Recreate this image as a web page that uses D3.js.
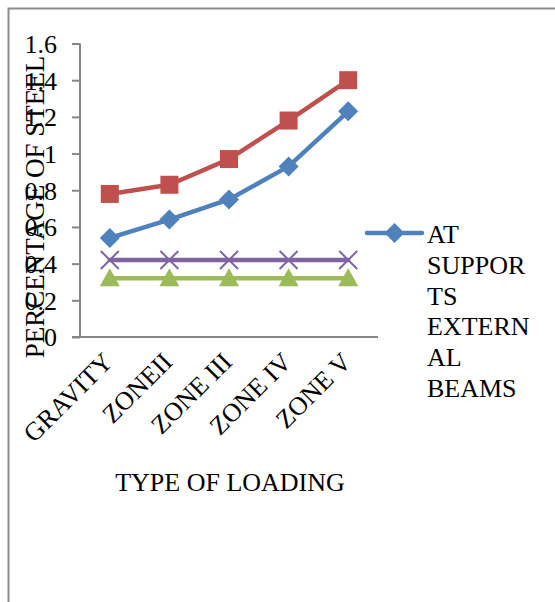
<!DOCTYPE html>
<html>
<head>
<meta charset="utf-8">
<script src="https://cdn.jsdelivr.net/npm/d3@7"></script>
<style>
  body { margin: 0; background: #fff; }
  text { font-family: "Liberation Serif", "Times New Roman", serif; fill: #000; }
</style>
</head>
<body>
<div id="chart"></div>
<script>
const categories = ["GRAVITY", "ZONEII", "ZONE III", "ZONE IV", "ZONE V"],
  // values
  blueValues = [0.54, 0.64, 0.75, 0.93, 1.23],
  redValues = [0.78, 0.83, 0.97, 1.18, 1.40],
  greenValues = [0.32, 0.32, 0.32, 0.32, 0.32],
  purpleValues = [0.42, 0.42, 0.42, 0.42, 0.42],
  yTicks = [0, 0.2, 0.4, 0.6, 0.8, 1, 1.2, 1.4, 1.6],
  legendLines = ["AT", "SUPPOR", "TS", "EXTERN", "AL", "BEAMS"]

const width = 555, height = 602,
  plot = { left: 80, right: 378, top: 43.5, bottom: 337 },
  fontSize = 26,
  axisColor = "#868686"

const series = [
  { name: "AT SUPPORTS EXTERNAL BEAMS", values: blueValues, color: "#4F81BD", marker: "diamond" },
  { name: "series 2", values: redValues, color: "#C0504D", marker: "square" },
  { name: "series 3", values: greenValues, color: "#9BBB59", marker: "triangle" },
  { name: "series 4", values: purpleValues, color: "#8064A2", marker: "x" }
]

const svg = d3.select("#chart").append("svg")
  .attr("width", width)
  .attr("height", height)

// outer frame (only top and left are visible)
svg.append("path")
  .attr("d", "M8.5," + height + "V8.5H" + width)
  .attr("fill", "none")
  .attr("stroke", "#8c8c8c")
  .attr("stroke-width", 2)

var x = d3.scaleBand().domain(categories).range([plot.left, plot.right])
var y = d3.scaleLinear().domain([0, 1.6]).range([plot.bottom, plot.top])

// y axis
var yAxis = svg.append("g")
  .attr("transform", "translate(" + plot.left + ",0)")
  .call(d3.axisLeft(y).tickValues(yTicks).tickSize(8).tickPadding(15)
    .tickFormat(d => String(+d.toFixed(1))))
yAxis.select(".domain").attr("stroke", axisColor).attr("stroke-width", 2)
  .attr("d", "M0," + plot.top + "V" + plot.bottom)
yAxis.selectAll(".tick line").attr("stroke", axisColor).attr("stroke-width", 2)
yAxis.selectAll(".tick text")
  .attr("font-size", fontSize)
  .attr("font-family", "Liberation Serif")
  .attr("dy", "0.34em")

// x axis line
svg.append("line")
  .attr("x1", plot.left - 8).attr("x2", plot.right)
  .attr("y1", plot.bottom).attr("y2", plot.bottom)
  .attr("stroke", axisColor).attr("stroke-width", 2)

// rotated category labels
svg.selectAll(".xlab")
  .data(categories)
  .enter()
  .append("text")
  .attr("class", "xlab")
  .attr("transform", d => "translate(" + (x(d) + x.bandwidth() / 2 - 8) + "," + 351 + ") rotate(-45)")
  .attr("text-anchor", "end")
  .attr("dy", "0.68em")
  .attr("font-size", fontSize)
  .text(d => d)

// axis titles
svg.append("text")
  .attr("transform", "translate(44,207) rotate(-90)")
  .attr("text-anchor", "middle")
  .attr("font-size", 27)
  .text("PERCENTAGE OF STEEL")

svg.append("text")
  .attr("x", 230)
  .attr("y", 491)
  .attr("text-anchor", "middle")
  .attr("font-size", fontSize)
  .text("TYPE OF LOADING")

function markerPath(type) {
  if (type == "diamond") return "M0,-10L10,0L0,10L-10,0Z"
  if (type == "square") return "M-9,-9H9V9H-9Z"
  if (type == "triangle") return "M0,-10L10,8L-10,8Z"
  return "M-9,-9L9,9M9,-9L-9,9"
}

var line = d3.line()
  .x((d, i) => x(categories[i]) + x.bandwidth() / 2)
  .y(d => y(d))

series.forEach(s => {
  var g = svg.append("g")
  g.append("path")
    .attr("d", line(s.values))
    .attr("fill", "none")
    .attr("stroke", s.color)
    .attr("stroke-width", 4.5)
    .attr("stroke-linejoin", "round")
    .attr("stroke-linecap", "round")

  g.selectAll("path.mk")
    .data(s.values)
    .enter()
    .append("path")
    .attr("class", "mk")
    .attr("transform", (d, i) => "translate(" + (x(categories[i]) + x.bandwidth() / 2) + "," + y(d) + ")")
    .attr("d", markerPath(s.marker))
    .attr("fill", s.marker == "x" ? "none" : s.color)
    .attr("stroke", s.color)
    .attr("stroke-width", s.marker == "x" ? 2 : 0)
})

// legend (only the first entry is visible in the original)
var legend = svg.append("g").attr("transform", "translate(367,233)")
legend.append("line")
  .attr("x1", 0).attr("x2", 55)
  .attr("stroke", series[0].color)
  .attr("stroke-width", 4.5)
  .attr("stroke-linecap", "round")
legend.append("path")
  .attr("transform", "translate(27.5,0)")
  .attr("d", markerPath(series[0].marker))
  .attr("fill", series[0].color)

legend.append("text")
  .attr("x", 60)
  .attr("y", 10)
  .attr("font-size", fontSize)
  .selectAll("tspan")
  .data(legendLines)
  .enter()
  .append("tspan")
  .attr("x", 60)
  .attr("dy", (d, i) => i == 0 ? 0 : 30.8)
  .text(d => d)
</script>
</body>
</html>
